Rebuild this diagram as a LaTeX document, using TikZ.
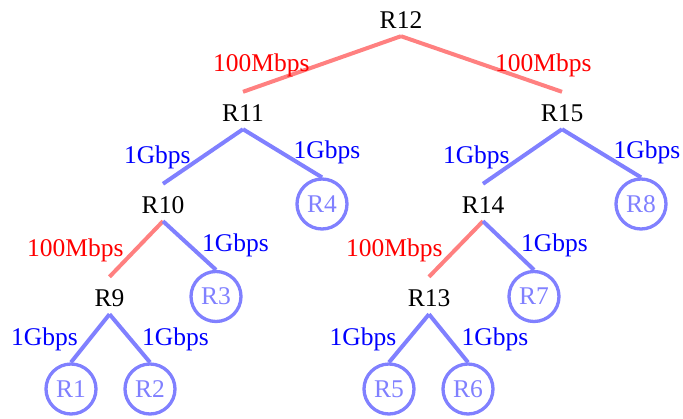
\documentclass[tikz,border=0pt]{standalone}
\usepackage{fontspec}
\setmainfont{Liberation Serif}
\begin{document}
\begin{tikzpicture}[x=1pt,y=-1pt,
  font=\fontsize{25.5}{30}\selectfont,
  router/.style={inner sep=0pt, text height=29pt, text depth=8pt, anchor=base},
  host/.style={circle, draw=blue!50, text=blue!50, line width=3.3pt,
               minimum size=50pt, inner sep=0pt},
  slow/.style={draw=red!50, line width=4pt},
  fast/.style={draw=blue!50, line width=4pt},
  slowlbl/.style={text=red, anchor=base, inner sep=0pt},
  fastlbl/.style={text=blue, anchor=base, inner sep=0pt}]
\useasboundingbox (0,0) rectangle (683,418);

% routers
\node[router] (r12) at (401,28) {R12};
\node[router] (r11) at (243,121) {R11};
\node[router] (r15) at (562,121) {R15};
\node[router] (r10) at (163,213) {R10};
\node[router] (r14) at (483,213) {R14};
\node[router] (r9)  at (109.5,306) {R9};
\node[router] (r13) at (429,306) {R13};

% hosts
\node[host] (h4) at (322,204) {R4};
\node[host] (h8) at (641,204) {R8};
\node[host] (h3) at (216,296.5) {R3};
\node[host] (h7) at (534,296.5) {R7};
\node[host] (h1) at (71,389) {R1};
\node[host] (h2) at (150,389) {R2};
\node[host] (h5) at (389,389) {R5};
\node[host] (h6) at (468,389) {R6};

% links with their bandwidths
\draw[slow] (r12.south) -- (r11.north) node[slowlbl] (l1) at (261.3,71) {100Mbps};
\draw[slow] (r12.south) -- (r15.north) node[slowlbl] (l2) at (543.3,71) {100Mbps};

\draw[fast] (r11.south) -- (r10.north) node[fastlbl] (l3) at (157.3,163.3) {1Gbps};
\draw[fast] (r11.south) -- (h4.north)  node[fastlbl] (l4) at (327,158.3) {1Gbps};
\draw[fast] (r15.south) -- (r14.north) node[fastlbl] (l5) at (476.3,163.3) {1Gbps};
\draw[fast] (r15.south) -- (h8.north)  node[fastlbl] (l6) at (647,158.3) {1Gbps};

\draw[slow] (r10.south) -- (r9.north)  node[slowlbl] (l7) at (75.3,256) {100Mbps};
\draw[fast] (r10.south) -- (h3.north)  node[fastlbl] (l8) at (235.5,251.7) {1Gbps};
\draw[slow] (r14.south) -- (r13.north) node[slowlbl] (l9) at (394.3,256) {100Mbps};
\draw[fast] (r14.south) -- (h7.north)  node[fastlbl] (l10) at (554.5,251.7) {1Gbps};

\draw[fast] (r9.south) -- (h1.north)   node[fastlbl] (l11) at (44.5,345) {1Gbps};
\draw[fast] (r9.south) -- (h2.north)   node[fastlbl] (l12) at (175.5,345) {1Gbps};
\draw[fast] (r13.south) -- (h5.north)  node[fastlbl] (l13) at (363,345) {1Gbps};
\draw[fast] (r13.south) -- (h6.north)  node[fastlbl] (l14) at (495,345) {1Gbps};
\end{tikzpicture}
\end{document}
